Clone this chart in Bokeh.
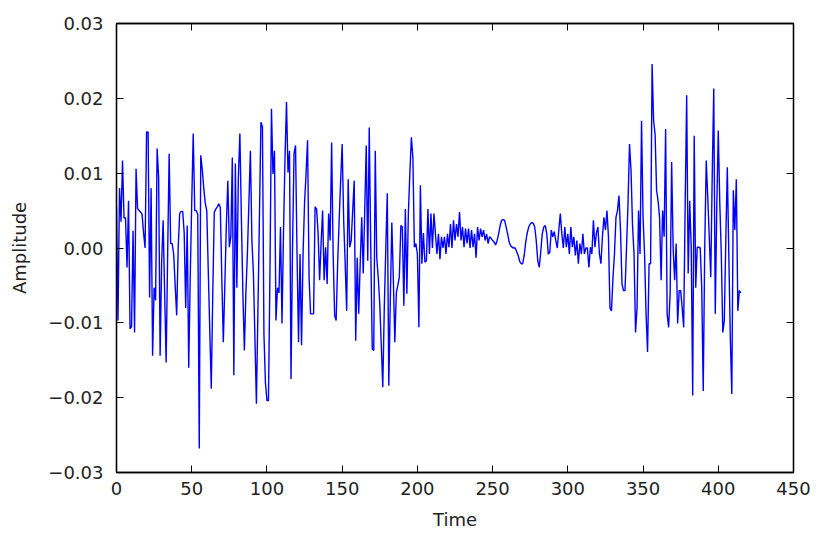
from bokeh.plotting import figure
from bokeh.models import LinearAxis, Range1d, CustomJSTickFormatter, FixedTicker
from bokeh.embed import file_html
from bokeh.resources import INLINE

amplitude = [
    0.0055, -0.0097, 0.0080, 0.0035, 0.0117, 0.0040, 0.0040, -0.0026, 0.0063, -0.0108,
    -0.0105, 0.0023, -0.0113, 0.0106, 0.0053, 0.0050, 0.0048, 0.0045, 0.0020, 0.0000,
    0.0155, 0.0155, -0.0066, 0.0080, -0.0144, -0.0053, -0.0070, 0.0133, 0.0094, -0.0144,
    -0.0020, 0.0037, -0.0060, -0.0153, -0.0008, 0.0126, 0.0006, 0.0006, -0.0008, -0.0050,
    -0.0090, 0.0000, 0.0046, 0.0049, 0.0049, 0.0020, -0.0080, 0.0030, -0.0160, -0.0040,
    0.0060, 0.0153, 0.0050, 0.0050, 0.0045, -0.0268, 0.0124, 0.0105, 0.0080, 0.0060,
    0.0050, -0.0030, -0.0110, -0.0188, -0.0060, 0.0048, 0.0052, 0.0055, 0.0059, 0.0054,
    -0.0040, -0.0126, -0.0050, 0.0030, 0.0090, 0.0001, 0.0015, 0.0121, -0.0170, 0.0113,
    -0.0053, 0.0094, 0.0153, 0.0041, -0.0060, -0.0137, -0.0060, -0.0008, 0.0060, 0.0130,
    0.0010, -0.0034, -0.0120, -0.0208, -0.0084, 0.0040, 0.0168, 0.0162, -0.0115, -0.0180,
    -0.0204, -0.0204, -0.0034, 0.0186, 0.0099, 0.0130, -0.0097, -0.0053, -0.0060, 0.0028,
    -0.0101, 0.0020, 0.0120, 0.0195, 0.0101, 0.0130, -0.0175, 0.0000, 0.0126, 0.0137,
    -0.0008, -0.0126, -0.0008, -0.0130, -0.0008, 0.0060, 0.0100, 0.0144, -0.0039, -0.0088,
    -0.0088, -0.0088, 0.0055, 0.0052, 0.0020, -0.0043, 0.0006, 0.0050, -0.0043, 0.0001,
    -0.0048, 0.0046, 0.0010, 0.0141, -0.0008, -0.0090, -0.0097, -0.0020, 0.0037, 0.0090,
    0.0139, 0.0037, -0.0020, -0.0084, 0.0092, 0.0001, 0.0010, 0.0050, 0.0090, -0.0124,
    -0.0013, -0.0088, -0.0020, 0.0041, -0.0034, 0.0050, 0.0137, -0.0017, 0.0161, 0.0000,
    -0.0135, -0.0137, 0.0130, -0.0013, -0.0040, -0.0075, -0.0130, -0.0186, -0.0080, 0.0000,
    0.0073, -0.0184, -0.0070, 0.0034, -0.0040, -0.0126, -0.0060, -0.0050, -0.0039, 0.0030,
    0.0028, -0.0077, 0.0052, -0.0061, 0.0046, 0.0100, 0.0148, 0.0121, 0.0001, 0.0006,
    -0.0008, -0.0106, 0.0084, -0.0021, 0.0020, -0.0019, -0.0017, 0.0052, -0.0008, 0.0046,
    0.0000, 0.0046, 0.0019, -0.0008, 0.0019, -0.0015, 0.0015, 0.0000, 0.0015, -0.0008,
    0.0019, 0.0001, 0.0032, 0.0000, 0.0037, 0.0010, 0.0032, 0.0015, 0.0048, 0.0010,
    0.0028, 0.0001, 0.0026, 0.0006, 0.0026, 0.0000, 0.0024, 0.0001, 0.0019, -0.0013,
    0.0028, 0.0010, 0.0026, 0.0015, 0.0024, 0.0010, 0.0019, 0.0006, 0.0015, 0.0013,
    0.0010, 0.0008, 0.0004, 0.0010, 0.0019, 0.0030, 0.0037, 0.0038, 0.0037, 0.0028,
    0.0019, 0.0008, 0.0003, 0.0001, 0.0000, 0.0000, -0.0005, -0.0010, -0.0018, -0.0021,
    -0.0021, -0.0010, 0.0008, 0.0020, 0.0028, 0.0032, 0.0034, 0.0033, 0.0028, 0.0010,
    -0.0017, -0.0026, -0.0005, 0.0019, 0.0028, 0.0030, 0.0019, -0.0008, -0.0006, 0.0024,
    0.0015, 0.0022, 0.0010, 0.0000, 0.0024, 0.0046, 0.0019, 0.0000, 0.0028, 0.0001,
    0.0019, -0.0008, 0.0028, 0.0001, 0.0015, -0.0010, 0.0010, -0.0021, 0.0006, -0.0008,
    0.0019, -0.0008, 0.0000, 0.0000, -0.0026, 0.0001, -0.0008, 0.0037, 0.0001, 0.0020,
    0.0028, -0.0008, -0.0021, 0.0015, 0.0041, 0.0024, 0.0050, 0.0015, -0.0080, -0.0084,
    -0.0040, -0.0008, 0.0041, 0.0050, 0.0070, 0.0024, -0.0048, -0.0057, -0.0057, 0.0000,
    0.0059, 0.0139, 0.0104, 0.0030, -0.0008, -0.0113, -0.0080, 0.0050, -0.0008, 0.0170,
    0.0040, -0.0008, -0.0088, -0.0139, -0.0021, -0.0021, 0.0246, 0.0170, 0.0152, 0.0077,
    0.0063, 0.0040, -0.0043, 0.0050, 0.0015, 0.0159, -0.0088, -0.0106, -0.0061, 0.0115,
    0.0000, -0.0043, 0.0006, -0.0101, -0.0057, -0.0057, -0.0080, -0.0106, 0.0059, 0.0204,
    -0.0034, 0.0063, 0.0001, -0.0197, 0.0150, -0.0053, 0.0001, 0.0001, 0.0000, -0.0053,
    -0.0191, 0.0001, 0.0117, 0.0068, 0.0015, -0.0039, 0.0100, 0.0213, -0.0088, 0.0054,
    0.0157, 0.0060, -0.0008, -0.0113, -0.0097, 0.0010, 0.0108, -0.0008, -0.0120, -0.0195,
    0.0077, 0.0024, 0.0092, -0.0084, -0.0057, -0.0060,
]
time = list(range(len(amplitude)))

x_ticks = [0, 50, 100, 150, 200, 250, 300, 350, 400, 450]
y_ticks = [-0.03, -0.02, -0.01, 0.0, 0.01, 0.02, 0.03]
x_label = "Time"
y_label = "Amplitude"

FONT = "DejaVu Sans"
FS = "18px"

p = figure(width=814, height=538, output_backend="svg", toolbar_location=None,
           x_range=Range1d(0, 450), y_range=Range1d(-0.03, 0.03),
           min_border_left=116, min_border_right=21, min_border_top=23,
           min_border_bottom=66, background_fill_color="white",
           border_fill_color="white")
p.xgrid.visible = False
p.ygrid.visible = False
p.outline_line_color = "black"
p.outline_line_width = 1.3

p.line(time, amplitude, line_color="#0000ff", line_width=1.4)

yfmt = CustomJSTickFormatter(code="return (tick < -1e-9 ? '\u2212' : '') + Math.abs(tick).toFixed(2);")
blank = CustomJSTickFormatter(code="return '';")


def style(ax, ticks):
    ax.ticker = FixedTicker(ticks=ticks)
    ax.major_tick_in = 7
    ax.major_tick_out = 0
    ax.minor_tick_in = 0
    ax.minor_tick_out = 0
    ax.major_tick_line_color = "black"
    ax.major_tick_line_width = 1
    ax.axis_line_color = "black"
    ax.axis_line_width = 1.3
    ax.major_label_text_font = FONT
    ax.major_label_text_font_size = FS
    ax.major_label_text_color = "#222222"
    ax.axis_label_text_font = FONT
    ax.axis_label_text_font_size = FS
    ax.axis_label_text_font_style = "normal"
    ax.axis_label_text_color = "#222222"


xa = p.xaxis[0]
style(xa, x_ticks)
xa.axis_label = x_label
xa.major_label_standoff = 9
xa.axis_label_standoff = 11

ya = p.yaxis[0]
style(ya, y_ticks)
ya.formatter = yfmt
ya.axis_label = y_label
ya.major_label_standoff = 13
ya.axis_label_standoff = 15

top = LinearAxis(formatter=blank)
style(top, x_ticks)
p.add_layout(top, "above")
right = LinearAxis(formatter=blank)
style(right, y_ticks)
p.add_layout(right, "right")

open("out.html", "w").write(file_html(p, INLINE))
